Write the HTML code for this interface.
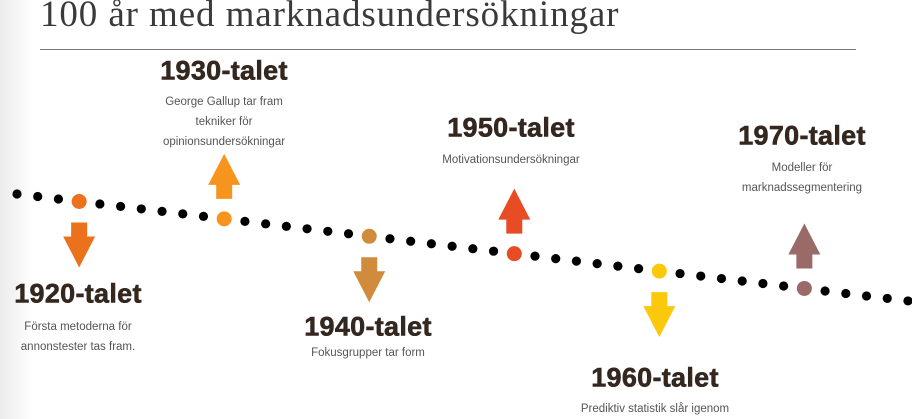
<!DOCTYPE html>
<html><head><meta charset="utf-8"><style>
body{margin:0;width:912px;height:419px;overflow:hidden;background:#fff;position:relative;font-family:"Liberation Sans",sans-serif}
.shade{position:absolute;left:0;top:0;width:34px;height:419px;background:linear-gradient(to right,#ececec,#fff)}
#title{position:absolute;left:40px;top:-7px;font-family:"Liberation Serif",serif;font-size:37px;color:#3a3a3a;white-space:nowrap;letter-spacing:0.9px}
#rule{position:absolute;left:40px;top:49px;width:816px;height:1px;background:#777}
.h{position:absolute;width:240px;margin-left:-120px;text-align:center;font-weight:bold;font-size:27px;color:#33271f;transform:translateY(-50%);letter-spacing:0.3px;-webkit-text-stroke:0.6px #33271f}
.t{position:absolute;width:240px;margin-left:-120px;text-align:center;font-size:11.5px;color:#555;line-height:20px}
svg{position:absolute;left:0;top:0}
</style></head><body>
<div class="shade"></div>
<div id="title">100 år med marknadsundersökningar</div>
<div id="rule"></div>
<svg id="tl" width="912" height="419"></svg>

<div class="h" style="left:78px;top:294px">1920-talet</div>
<div class="t" style="left:78px;top:317px">Första metoderna för<br>annonstester tas fram.</div>

<div class="h" style="left:224px;top:71px">1930-talet</div>
<div class="t" style="left:224px;top:92px">George Gallup tar fram<br>tekniker för<br>opinionsundersökningar</div>

<div class="h" style="left:368px;top:327px">1940-talet</div>
<div class="t" style="left:368px;top:343px">Fokusgrupper tar form</div>

<div class="h" style="left:511px;top:128px">1950-talet</div>
<div class="t" style="left:511px;top:150px">Motivationsundersökningar</div>

<div class="h" style="left:655px;top:378px">1960-talet</div>
<div class="t" style="left:655px;top:399px">Prediktiv statistik slår igenom</div>

<div class="h" style="left:802px;top:136px">1970-talet</div>
<div class="t" style="left:802px;top:158px">Modeller för<br>marknadssegmentering</div>

<script>
const decades=["1920","1930","1940","1950","1960","1970"];
const colors=["#ec711c","#f7941d","#d08b3c","#e84c24","#fcc80c","#9a6a69"];
const dirs=["down","up","down","up","down","up"];
const svg=document.getElementById('tl');
const NS="http://www.w3.org/2000/svg";
const x0=17,step=20.72,y0=194,slope=0.12;
for(let i=0;i<=43;i++){
  const x=x0+i*step,y=y0+(x-x0)*slope;
  const k=(i-3)/7;
  const c=document.createElementNS(NS,'circle');
  c.setAttribute('cx',x);c.setAttribute('cy',y);
  if(i>=3&&Number.isInteger(k)&&k<decades.length){
    c.setAttribute('r',7.5);c.setAttribute('fill',colors[k]);
    
    
    const p=document.createElementNS(NS,'polygon');
    let pts;
    if(dirs[k]==="down"){const a=y+21;pts=[[x-8,a],[x+8,a],[x+8,a+14],[x+16,a+14],[x,a+45],[x-16,a+14],[x-8,a+14]];}
    else{const b=y-20;pts=[[x-8,b],[x+8,b],[x+8,b-14],[x+16,b-14],[x,b-45],[x-16,b-14],[x-8,b-14]];}
    p.setAttribute('points',pts.map(q=>q.join(',')).join(' '));
    p.setAttribute('fill',colors[k]);
    
    
    svg.appendChild(p);
  }else{
    c.setAttribute('r',4.6);c.setAttribute('fill','#000');
    
    
  }
  svg.appendChild(c);
}
</script>
</body></html>
